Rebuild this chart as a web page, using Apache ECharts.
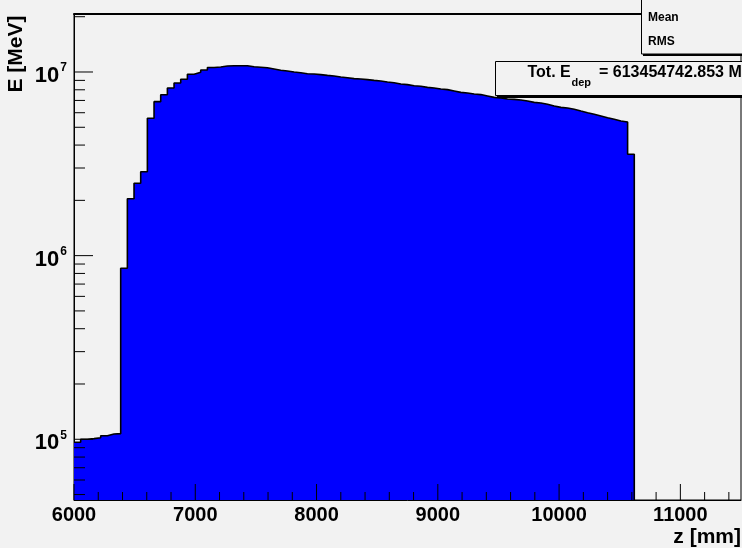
<!DOCTYPE html>
<html>
<head>
<meta charset="utf-8">
<script src="https://cdn.jsdelivr.net/npm/echarts@6/dist/echarts.min.js"></script>
<style>
  html, body { margin: 0; padding: 0; background: #f2f2f2; }
  #chart { width: 742px; height: 548px; }
</style>
</head>
<body>
<div id="chart"></div>
<script>
// Energy deposited per 55 mm slice along z, starting at z = 6000 mm
const binStart = 6000;
const binWidth = 55;
const energy = [
  96300, 100000, 100800, 102000, 104600, 106900, 107300,
  853000, 2042000, 2477000, 2865000, 5596000, 6893000, 7522000, 8182000,
  8711000, 9125000, 9727000, 9963000, 10254000, 10580000, 10646000, 10781000,
  10821000, 10821000, 10808000, 10673000, 10607000, 10541000, 10382000, 10216000,
  10125000, 10000000, 9913000, 9789000, 9752000, 9679000, 9583000, 9511000,
  9392000, 9311000, 9204000, 9160000, 9091000, 8999000, 8933000, 8821000,
  8744000, 8602000, 8537000, 8421000, 8358000, 8244000, 8182000, 8079000,
  8018000, 7879000, 7743000, 7684000, 7589000, 7532000, 7401000, 7273000,
  7218000, 7129000, 7093000, 7039000, 6952000, 6831000, 6780000, 6670000,
  6530000, 6416000, 6368000, 6265000, 6132000, 6003000, 5884000, 5760000,
  5638000, 5527000, 5411000, 5344000, 3564000
];

// Axis ranges
const xMin = 6000, xMax = 11500;
const yMin = 46700, yMax = 20690000;

// Tick marks
const xMajorTicks = [6000, 7000, 8000, 9000, 10000, 11000];
const xMinorStep = 200;
const yMajorTicks = [1e5, 1e6, 1e7];
const yMinorMultipliers = [2, 3, 4, 5, 6, 7, 8, 9];

const totalLabel = '= 613454742.853 MeV';

const FONT = 'Liberation Sans, Arial, sans-serif';

// Step outline: one point at each bin's lower edge, then close at the upper edge
const histData = energy.map((v, i) => [binStart + i * binWidth, v]);
const lastEdge = binStart + energy.length * binWidth;
histData.push([lastEdge, energy[energy.length - 1]]);
histData.push([lastEdge, yMin]);

// Tick data: [x, y, length]
const xTickData = [];
for (let x = xMin; x < xMax; x += xMinorStep) {
  xTickData.push([x, yMin, xMajorTicks.includes(x) ? 16 : 8]);
}
const yTickData = [];
for (let e = 4; e <= 7; e++) {
  const base = Math.pow(10, e);
  if (base >= yMin && base <= yMax) yTickData.push([xMin, base, yMajorTicks.includes(base) ? 19 : 11]);
  yMinorMultipliers.forEach(k => {
    const v = k * base;
    if (v >= yMin && v <= yMax) yTickData.push([xMin, v, 11]);
  });
}

const chart = echarts.init(document.getElementById('chart'), null, { renderer: 'canvas' });

chart.setOption({
  backgroundColor: '#f2f2f2',
  animation: false,
  grid: { left: 74, right: 1, top: 14, bottom: 48, show: true, borderColor: '#000', borderWidth: 1 },
  xAxis: [{
    type: 'value',
    min: xMin, max: xMax, interval: 1000,
    axisLine: { show: true, onZero: false, lineStyle: { color: '#000', width: 1 } },
    axisTick: { show: false },
    splitLine: { show: false },
    axisLabel: {
      showMaxLabel: false,
      margin: 5,
      formatter: v => String(v),
      color: '#000', fontSize: 20, fontWeight: 'bold', fontFamily: FONT
    }
  }, {
    type: 'value', position: 'top',
    min: xMin, max: xMax,
    axisLine: { show: true, onZero: false, lineStyle: { color: '#000', width: 2 } },
    axisTick: { show: false }, axisLabel: { show: false }, splitLine: { show: false }
  }],
  yAxis: {
    type: 'log', logBase: 10,
    min: yMin, max: yMax,
    axisLine: { show: true, onZero: false, lineStyle: { color: '#000', width: 1 } },
    axisTick: { show: false },
    splitLine: { show: false },
    axisLabel: {
      showMinLabel: false, showMaxLabel: false,
      margin: 7,
      formatter: v => {
        const lg = Math.log10(v);
        const e = Math.round(lg);
        if (Math.abs(lg - e) > 1e-6) return '';
        return '{b|10}{s|' + e + '}';
      },
      rich: {
        b: { fontSize: 22, fontWeight: 'bold', fontFamily: FONT, color: '#000', padding: [8, 0, 0, 0] },
        s: { fontSize: 12, fontWeight: 'bold', fontFamily: FONT, color: '#000', padding: [0, 0, 8, 1] }
      }
    }
  },
  series: [{
    type: 'line',
    step: 'end',
    data: histData,
    symbol: 'none',
    lineStyle: { color: '#000', width: 1.6 },
    areaStyle: { color: '#0000ff', opacity: 1, origin: 'start' },
    z: 2
  }, {
    type: 'custom',
    data: xTickData,
    z: 5,
    renderItem: (params, api) => {
      const p = api.coord([api.value(0), api.value(1)]);
      const len = api.value(2);
      return { type: 'line', shape: { x1: p[0], y1: p[1], x2: p[0], y2: p[1] - len }, style: { stroke: '#000', lineWidth: 1 } };
    }
  }, {
    type: 'custom',
    data: yTickData,
    z: 5,
    renderItem: (params, api) => {
      const p = api.coord([api.value(0), api.value(1)]);
      const len = api.value(2);
      return { type: 'line', shape: { x1: p[0], y1: p[1], x2: p[0] + len, y2: p[1] }, style: { stroke: '#000', lineWidth: 1 } };
    }
  }],
  graphic: [
    // axis titles
    { type: 'text', x: 16.5, y: 54, rotation: Math.PI / 2,
      style: { text: 'E [MeV]', font: 'bold 21px ' + FONT, fill: '#000', align: 'center', verticalAlign: 'middle' } },
    { type: 'text', x: 741, y: 537,
      style: { text: 'z [mm]', font: 'bold 21px ' + FONT, fill: '#000', align: 'right', verticalAlign: 'middle' } },
    // statistics box
    { type: 'rect', z: 10, shape: { x: 643, y: 52, width: 110, height: 4 }, style: { fill: '#000' } },
    { type: 'rect', z: 11, shape: { x: 641.5, y: -2, width: 110, height: 56 }, style: { fill: '#f2f2f2', stroke: '#000', lineWidth: 1 } },
    { type: 'text', z: 12, x: 648, y: 18, style: { text: 'Mean', font: 'bold 12px ' + FONT, fill: '#000', verticalAlign: 'middle' } },
    { type: 'text', z: 12, x: 648, y: 42, style: { text: 'RMS', font: 'bold 12px ' + FONT, fill: '#000', verticalAlign: 'middle' } },
    // total deposited energy box
    { type: 'rect', z: 10, shape: { x: 497, y: 94, width: 260, height: 4 }, style: { fill: '#000' } },
    { type: 'rect', z: 11, shape: { x: 495.5, y: 61.5, width: 260, height: 34 }, style: { fill: '#f2f2f2', stroke: '#000', lineWidth: 1 } },
    { type: 'text', z: 12, x: 527.5, y: 73, style: { text: 'Tot. E', font: 'bold 16px ' + FONT, fill: '#000', verticalAlign: 'middle' } },
    { type: 'text', z: 12, x: 571.5, y: 83, style: { text: 'dep', font: 'bold 11px ' + FONT, fill: '#000', verticalAlign: 'middle' } },
    { type: 'text', z: 12, x: 599, y: 73, style: { text: totalLabel, font: 'bold 16px ' + FONT, fill: '#000', verticalAlign: 'middle' } }
  ]
});
</script>
</body>
</html>
